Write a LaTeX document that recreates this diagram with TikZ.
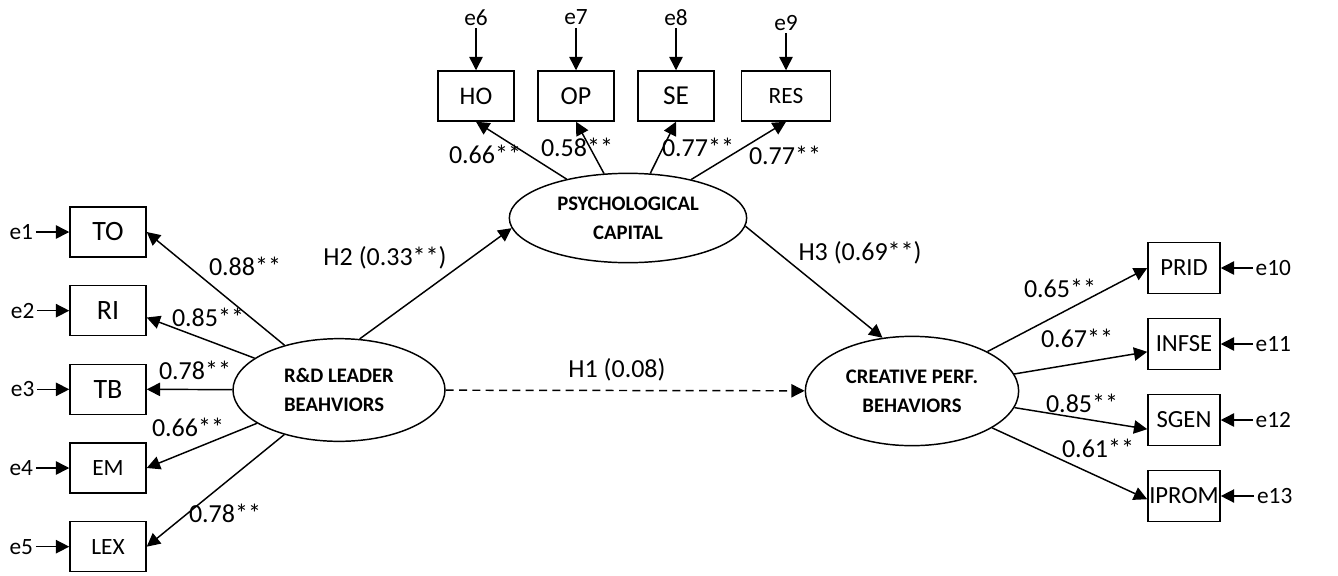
\documentclass[tikz,border=0pt]{standalone}
\usepackage{fontspec}
\setmainfont{Carlito}
\usetikzlibrary{shapes.geometric, arrows.meta}
\tikzstyle{obs} = [rectangle, minimum width=57pt, minimum height=37.5pt, inner sep=1pt, text centered, draw=black, line width=1.1pt, font=\fontsize{21}{25}\selectfont]
\tikzstyle{obsr} = [obs, minimum width=54pt, minimum height=38pt, font=\fontsize{18.5}{22}\selectfont]
\tikzstyle{latent} = [ellipse, inner sep=0pt, text centered, draw=black, line width=1.1pt, font=\fontsize{15.5}{22}\selectfont\bfseries]
\tikzstyle{err} = [inner sep=2pt, font=\fontsize{17.5}{20}\selectfont]
\tikzstyle{coef} = [inner sep=0pt, font=\fontsize{19.5}{23}\selectfont]
\tikzstyle{arrow} = [line width=1.1pt, -{Triangle[length=10pt,width=10pt]}]

\begin{document}
\begin{tikzpicture}[x=0.75pt, y=0.75pt, node distance=59pt]
\useasboundingbox (0,0) rectangle (1338,-575);
% latent variables
\node (leader) [latent, minimum width=159pt, minimum height=77pt, align=left] at (339,-390) {R\&D LEADER\\BEAHVIORS};
\node (psycap) [latent, minimum width=178pt, minimum height=67pt, align=center] at (628,-218) {PSYCHOLOGICAL\\CAPITAL};
\node (creative) [latent, minimum width=160pt, minimum height=82pt, align=center] at (912,-391) {CREATIVE PERF.\\BEHAVIORS};
% leader indicators
\node (TO) [obs] at (108,-232) {TO};
\node (RI) [obs, below of = TO] {RI};
\node (TB) [obs, below of = RI] {TB};
\node (EM) [obs, below of = TB, font=\fontsize{17.5}{20}\selectfont] {EM};
\node (LEX) [obs, below of = EM, font=\fontsize{17.5}{20}\selectfont] {LEX};
% psycap indicators
\node (HO) [obs, font=\fontsize{19}{22}\selectfont] at (476,-96) {HO};
\node (OP) [obs, right of = HO, xshift=16pt, font=\fontsize{19.5}{22}\selectfont] {OP};
\node (SE) [obs, right of = OP, xshift=16pt, font=\fontsize{20.5}{22}\selectfont] {SE};
\node (RES) [obs, right of = SE, xshift=23.5pt, minimum width=67pt, font=\fontsize{17.5}{22}\selectfont] {RES};
% creative indicators
\node (PRID) [obsr] at (1184,-268) {PRID};
\node (INFSE) [obsr, below of = PRID, yshift=2pt] {INFSE};
\node (SGEN) [obsr, below of = INFSE, yshift=2pt] {SGEN};
\node (IPROM) [obsr, below of = SGEN, yshift=2pt] {IPROM};
% error terms
\node (e1) [err, left of = TO, xshift=-6pt] {e1};
\node (e2) [err, left of = RI, xshift=-5pt] {e2};
\node (e3) [err, left of = TB, xshift=-5pt] {e3};
\node (e4) [err, left of = EM, xshift=-6pt] {e4};
\node (e5) [err, left of = LEX, xshift=-6pt] {e5};
\node (e6) [err, above of = HO] {e6};
\node (e7) [err, above of = OP] {e7};
\node (e8) [err, above of = SE] {e8};
\node (e9) [err, above of = RES, yshift=-4pt] {e9};
\node (e10) [err, right of = PRID, xshift=8pt] {e10};
\node (e11) [err, right of = INFSE, xshift=8pt] {e11};
\node (e12) [err, right of = SGEN, xshift=8pt] {e12};
\node (e13) [err, right of = IPROM, xshift=9pt] {e13};
% loadings and paths
\node (cTO) [coef] at (245,-266) {0.88**};
\node (cRI) [coef] at (208,-317) {0.85**};
\node (cTB) [coef] at (195,-370) {0.78**};
\node (cEM) [coef] at (188,-427) {0.66**};
\node (cLEX) [coef] at (225,-513) {0.78**};
\node (cHO) [coef] at (485,-154) {0.66**};
\node (cOP) [coef] at (577,-147) {0.58**};
\node (cSE) [coef] at (698,-147) {0.77**};
\node (cRES) [coef] at (785,-155) {0.77**};
\node (cPRID) [coef] at (1060,-288) {0.65**};
\node (cINFSE) [coef] at (1077,-338) {0.67**};
\node (cSGEN) [coef] at (1082,-403) {0.85**};
\node (cIPROM) [coef] at (1098,-448) {0.61**};
\node (hyp1) [coef] at (617,-370) {H1 (0.08)};
\node (hyp2) [coef] at (385,-258) {H2 (0.33**)};
\node (hyp3) [coef] at (860,-253) {H3 (0.69**)};

\draw [arrow] (leader) -- (TO.east);
\draw [arrow] (leader) -- (RI.350);
\draw [arrow] (leader) -- (TB.east);
\draw [arrow] (leader) -- (EM.east);
\draw [arrow] (leader) -- (LEX.east);
\draw [arrow] (psycap) -- (HO.south);
\draw [arrow] (psycap) -- (OP.south);
\draw [arrow] (psycap) -- (SE.south);
\draw [arrow] (psycap) -- (RES.south);
\draw [arrow] (creative) -- (PRID.west);
\draw [arrow] (creative) -- (INFSE.192);
\draw [arrow] (creative) -- (SGEN.194);
\draw [arrow] (creative) -- (IPROM.185);
\draw [arrow] (leader.68) -- (psycap.185);
\draw [arrow] (psycap.356) -- (creative.119);
\draw [arrow, dash pattern=on 6pt off 4pt] (leader) -- (creative);
\draw [arrow] (e1) -- (TO);
\draw [arrow] (e2) -- (RI);
\draw [arrow] (e3) -- (TB);
\draw [arrow] (e4) -- (EM);
\draw [arrow] (e5) -- (LEX);
\draw [arrow] (e6) -- (HO);
\draw [arrow] (e7) -- (OP);
\draw [arrow] (e8) -- (SE);
\draw [arrow] (e9) -- (RES);
\draw [arrow] (e10) -- (PRID);
\draw [arrow] (e11) -- (INFSE);
\draw [arrow] (e12) -- (SGEN);
\draw [arrow] (e13) -- (IPROM);
\end{tikzpicture}
\end{document}
